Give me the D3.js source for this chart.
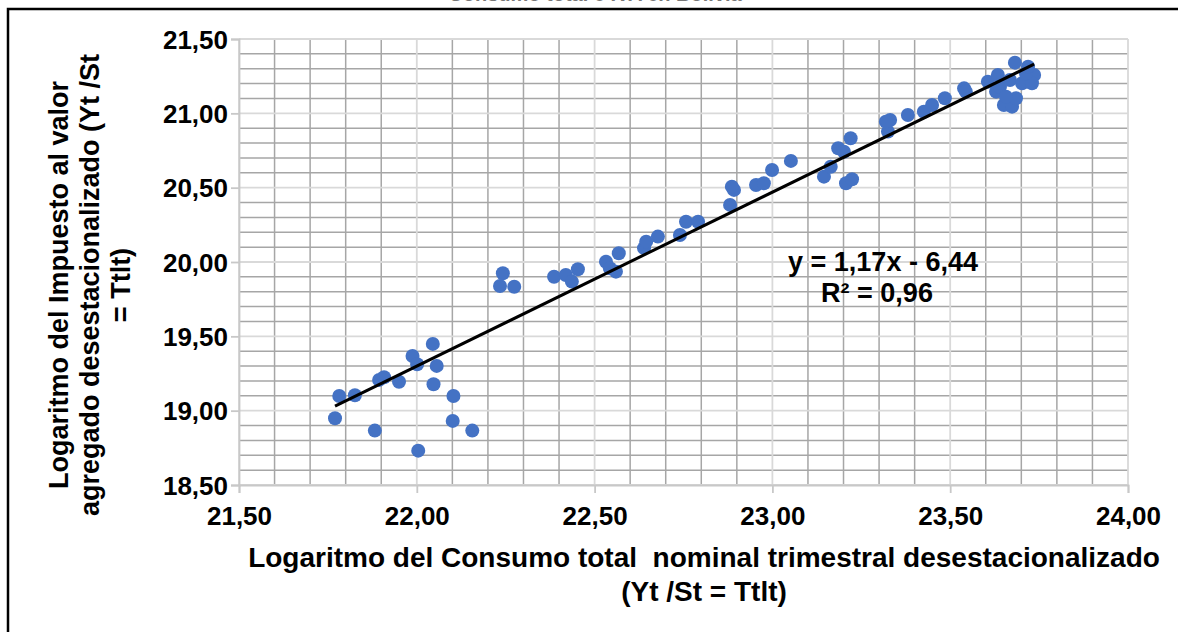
<!DOCTYPE html>
<html><head><meta charset="utf-8">
<script src="https://cdn.jsdelivr.net/npm/d3@7"></script>
<style>
html,body{margin:0;padding:0;background:#fff;overflow:hidden;}
text{font-family:"Liberation Sans",Arial,sans-serif;font-weight:bold;fill:#000;}
</style></head>
<body>
<svg id="c" width="1178" height="632"></svg>
<script>
const consumo = [21.770,21.782,21.826,21.882,21.894,21.908,21.950,21.988,22.001,22.004,22.045,22.056,22.047,22.103,22.101,22.156,
22.242,22.234,22.274,22.386,22.419,22.436,22.453,22.532,22.543,22.560,22.568,22.639,22.645,22.678,22.740,22.757,22.791,
22.881,22.892,22.886,22.954,22.976,22.999,23.052,23.145,23.164,23.185,23.201,23.220,23.207,23.224,23.325,23.331,23.319,
23.381,23.426,23.449,23.485,23.539,23.544,23.606,23.634,23.629,23.640,23.682,23.668,23.702,23.736,23.730,23.651,23.674,
23.685,23.657,23.713,23.719];
const iva = [18.949,19.099,19.104,18.866,19.207,19.225,19.195,19.368,19.312,18.731,19.449,19.301,19.178,19.099,18.931,18.866,
19.924,19.839,19.834,19.901,19.913,19.868,19.951,20.002,19.958,19.935,20.059,20.093,20.137,20.171,20.182,20.271,20.271,
20.384,20.485,20.507,20.518,20.530,20.619,20.680,20.574,20.641,20.765,20.742,20.832,20.530,20.557,20.877,20.955,20.944,
20.989,21.011,21.056,21.101,21.168,21.146,21.213,21.258,21.146,21.179,21.341,21.224,21.202,21.258,21.202,21.056,21.045,
21.101,21.112,21.269,21.314];
const xTicks = [21.5,22.0,22.5,23.0,23.5,24.0];
const yTicks = [18.5,19.0,19.5,20.0,20.5,21.0,21.5];
const slope = 1.17, intercept = -6.44;
const eqLabel = "y = 1,17x - 6,44";
const r2Label = "R² = 0,96";
const xTitle = ["Logaritmo del Consumo total  nominal trimestral desestacionalizado", "(Yt /St = Ttlt)"];
const yTitle = ["Logaritmo del Impuesto al valor", "agregado desestacionalizado (Yt /St", "= Ttlt)"];
const topTitle = "Consumo total e IVA en Bolivia";

const svg = d3.select("#c");
const x = d3.scaleLinear().domain([21.5,24]).range([239,1128]);
const y = d3.scaleLinear().domain([18.5,21.5]).range([485,39]);
const fmt = v => d3.format(".2f")(v).replace(".", ",");

// frame
svg.append("rect").attr("x",8).attr("y",9).attr("width",1300).attr("height",800)
  .attr("fill","none").attr("stroke","#000").attr("stroke-width",2.5);
svg.append("text").attr("x",595).attr("y",1).attr("text-anchor","middle")
  .style("font-size","20px").style("fill","#777").text(topTitle);

// minor grid
const minorX = d3.range(21.5, 24.0001, 0.1).filter(v => Math.abs(v*2 - Math.round(v*2)) > 1e-6);
const minorY = d3.range(18.5, 21.5001, 0.1).filter(v => Math.abs(v*2 - Math.round(v*2)) > 1e-6);
const g = svg.append("g");
g.selectAll(".mx").data(minorX).join("line")
  .attr("x1",d=>x(d)).attr("x2",d=>x(d)).attr("y1",y(21.5)).attr("y2",y(18.5))
  .attr("stroke","#a6a6a6").attr("stroke-width",1.5);
g.selectAll(".my").data(minorY).join("line")
  .attr("y1",d=>y(d)).attr("y2",d=>y(d)).attr("x1",x(21.5)).attr("x2",x(24))
  .attr("stroke","#a6a6a6").attr("stroke-width",1.5);
// major grid
g.selectAll(".Mx").data(xTicks).join("line")
  .attr("x1",d=>x(d)).attr("x2",d=>x(d)).attr("y1",y(21.5)).attr("y2",y(18.5))
  .attr("stroke","#d9d9d9").attr("stroke-width",1.8);
g.selectAll(".My").data(yTicks).join("line")
  .attr("y1",d=>y(d)).attr("y2",d=>y(d)).attr("x1",x(21.5)).attr("x2",x(24))
  .attr("stroke","#d9d9d9").attr("stroke-width",1.8);

// axes
const xAxis = d3.axisBottom(x).tickValues(xTicks).tickFormat(fmt).tickSize(8).tickPadding(14);
const yAxis = d3.axisLeft(y).tickValues(yTicks).tickFormat(fmt).tickSize(8).tickPadding(3);
const gx = svg.append("g").attr("transform",`translate(0,${y(18.5)})`).call(xAxis);
const gy = svg.append("g").attr("transform",`translate(${x(21.5)},0)`).call(yAxis);
[gx,gy].forEach(a=>{
  a.select(".domain").attr("stroke","#c8c8c8").attr("stroke-width",1.8);
  a.selectAll(".tick line").attr("stroke","#c8c8c8").attr("stroke-width",1.8);
  a.selectAll(".tick text").style("font-size","26px").style("font-family","'Liberation Sans',Arial,sans-serif").style("font-weight","bold").attr("fill","#000");
});
gx.selectAll(".tick text").attr("dy","0.68em");
gy.selectAll(".tick text").attr("dy","0.35em");

// points
svg.append("g").selectAll("circle").data(consumo.map((c,i)=>[c,iva[i]])).join("circle")
  .attr("cx",d=>x(d[0])).attr("cy",d=>y(d[1])).attr("r",7).attr("fill","#4472C4");

// trendline
const xmin = d3.min(consumo), xmax = d3.max(consumo);
svg.append("line").attr("x1",x(xmin)).attr("y1",y(slope*xmin+intercept))
  .attr("x2",x(xmax)).attr("y2",y(slope*xmax+intercept))
  .attr("stroke","#000").attr("stroke-width",3);

// equation
svg.append("text").attr("x",883).attr("y",271).attr("text-anchor","middle").style("font-size","27px").text(eqLabel);
svg.append("text").attr("x",877).attr("y",302).attr("text-anchor","middle").style("font-size","27px").text(r2Label);

// axis titles
svg.selectAll(".xt").data(xTitle).join("text")
  .attr("x",704).attr("y",(d,i)=>567+i*34).attr("text-anchor","middle")
  .style("font-size","28px").style("white-space","pre").attr("xml:space","preserve").text(d=>d);
svg.selectAll(".yt").data(yTitle).join("text")
  .attr("transform",(d,i)=>`translate(${68+i*31},285) rotate(-90)`)
  .attr("text-anchor","middle").style("font-size","27px").text(d=>d);
</script>
</body></html>
